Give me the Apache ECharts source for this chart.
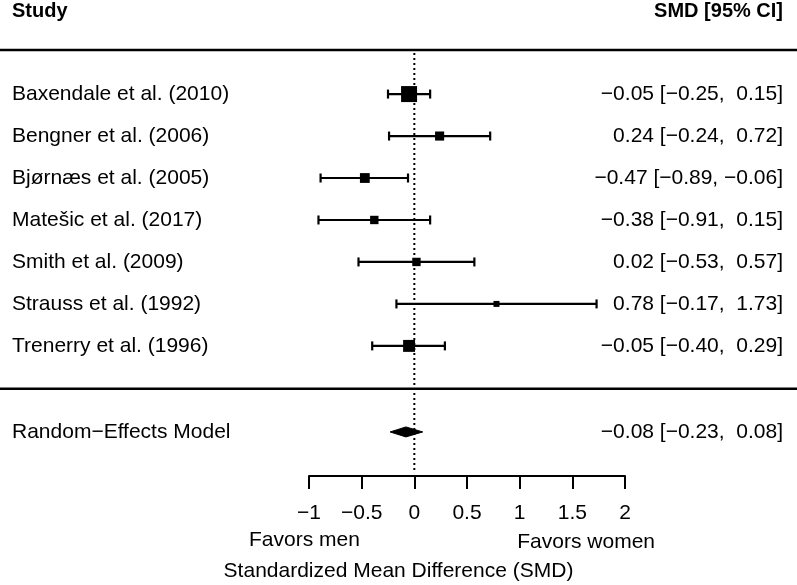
<!DOCTYPE html>
<html>
<head>
<meta charset="utf-8">
<script src="https://cdn.jsdelivr.net/npm/echarts@6/dist/echarts.min.js"></script>
<style>html,body{margin:0;padding:0;background:#fff;}#c{width:797px;height:585px;}</style>
</head>
<body>
<div id="c"></div>
<script>
// ---- data ----
const studies = ['Baxendale et al. (2010)', 'Bengner et al. (2006)', 'Bjørnæs et al. (2005)', 'Matešic et al. (2017)', 'Smith et al. (2009)', 'Strauss et al. (1992)', 'Trenerry et al. (1996)'];
const smd    = [-0.05, 0.24, -0.47, -0.38, 0.02, 0.78, -0.05];
const ciLow  = [-0.25, -0.24, -0.89, -0.91, -0.53, -0.17, -0.40];
const ciHigh = [0.15, 0.72, -0.06, 0.15, 0.57, 1.73, 0.29];
const weights = [27.0, 12.5, 14.0, 11.0, 11.0, 6.0, 18.5];
const summaryLabel = 'Random\u2212Effects Model';
const summaryEst = -0.08, summaryLow = -0.23, summaryHigh = 0.08;
const xMin = -1, xMax = 2, xStep = 0.5;
const headerLeft = 'Study', headerRight = 'SMD [95% CI]';
const axisTitle = 'Standardized Mean Difference (SMD)';
const leftNote = 'Favors men', rightNote = 'Favors women';

// ---- helpers ----
const FONT = '21px "Liberation Sans", Arial, sans-serif';
const BFONT = 'bold 20px "Liberation Sans", Arial, sans-serif';
const fmt = v => { const s = Math.abs(v).toFixed(2); return (v < 0 ? '\u2212' : '') + s; };
function ciText(e, l, h) {
  return fmt(e) + ' [' + fmt(l) + ', ' + (h < 0 ? '' : ' ') + fmt(h) + ']';
}
const wMin = Math.min(...weights), wMax = Math.max(...weights);
const sizeOf = w => 6 + (w - wMin) / (wMax - wMin) * 10;

const rowTop = -1.05, rowSep = 7.02, rowSummary = 8.05, rowAxis = 9.1;

const studyData = studies.map((s, i) => [smd[i], ciLow[i], ciHigh[i], i, weights[i]]);

const chart = echarts.init(document.getElementById('c'), null, {renderer: 'canvas'});
chart.setOption({
  animation: false,
  grid: {left: 309, right: 172, top: 50, bottom: 109, containLabel: false},
  xAxis: {
    type: 'value', min: xMin, max: xMax, interval: xStep, position: 'bottom',
    axisLine: {show: true, onZero: false, lineStyle: {color: '#000', width: 2}},
    axisTick: {show: true, length: 13, inside: false, lineStyle: {color: '#000', width: 2}},
    axisLabel: {color: '#000', fontSize: 21, fontFamily: 'Liberation Sans', margin: 27,
      formatter: v => String(v).replace('-', '\u2212')},
    splitLine: {show: false}
  },
  yAxis: {type: 'value', min: rowTop, max: rowAxis, inverse: true, show: false},
  series: [
    {
      type: 'custom', clip: false, silent: true,
      data: [[0, rowTop], [0, rowSep]],
      encode: {x: 0, y: 1},
      renderItem: (params, api) => {
        const y = api.coord([0, api.value(1)])[1];
        return {type: 'line', shape: {x1: 0, y1: y, x2: api.getWidth(), y2: y},
          style: {stroke: '#000', lineWidth: 2.5}};
      }
    },
    {
      type: 'custom', clip: false, silent: true,
      data: [[0, rowTop, rowAxis]],
      encode: {x: 0, y: 1},
      renderItem: (params, api) => {
        const x = api.coord([0, 0])[0];
        const y1 = api.coord([0, api.value(1)])[1] + 3;
        const y2 = api.coord([0, api.value(2)])[1] - 6;
        return {type: 'line', shape: {x1: x, y1: y1, x2: x, y2: y2},
          style: {stroke: '#000', lineWidth: 2, lineDash: [2, 3]}};
      }
    },
    {
      type: 'custom', clip: false, silent: true,
      data: studyData,
      encode: {x: [0, 1, 2], y: 3},
      renderItem: (params, api) => {
        const i = params.dataIndex;
        const y = api.coord([0, api.value(3)])[1];
        const xe = api.coord([api.value(0), 0])[0];
        const xl = api.coord([api.value(1), 0])[0];
        const xh = api.coord([api.value(2), 0])[0];
        const s = sizeOf(api.value(4));
        const ln = {stroke: '#000', lineWidth: 2.2};
        return {type: 'group', children: [
          {type: 'line', shape: {x1: xl, y1: y, x2: xh, y2: y}, style: ln},
          {type: 'line', shape: {x1: xl, y1: y - 4.5, x2: xl, y2: y + 4.5}, style: ln},
          {type: 'line', shape: {x1: xh, y1: y - 4.5, x2: xh, y2: y + 4.5}, style: ln},
          {type: 'rect', shape: {x: xe - s / 2, y: y - s / 2, width: s, height: s}, style: {fill: '#000'}},
          {type: 'text', x: 12, y: y, style: {text: studies[i], font: FONT, fill: '#000', align: 'left', verticalAlign: 'middle'}},
          {type: 'text', x: 783, y: y, style: {text: ciText(smd[i], ciLow[i], ciHigh[i]), font: FONT, fill: '#000', align: 'right', verticalAlign: 'middle'}}
        ]};
      }
    },
    {
      type: 'custom', clip: false, silent: true,
      data: [[summaryEst, summaryLow, summaryHigh, rowSummary]],
      encode: {x: [0, 1, 2], y: 3},
      renderItem: (params, api) => {
        const y = api.coord([0, api.value(3)])[1];
        const xe = api.coord([api.value(0), 0])[0];
        const xl = api.coord([api.value(1), 0])[0];
        const xh = api.coord([api.value(2), 0])[0];
        return {type: 'group', children: [
          {type: 'polygon', shape: {points: [[xl, y], [xe, y - 5], [xh, y], [xe, y + 5]]}, style: {fill: '#000', stroke: '#000', lineWidth: 1}},
          {type: 'text', x: 12, y: y, style: {text: summaryLabel, font: FONT, fill: '#000', align: 'left', verticalAlign: 'middle'}},
          {type: 'text', x: 783, y: y, style: {text: ciText(summaryEst, summaryLow, summaryHigh), font: FONT, fill: '#000', align: 'right', verticalAlign: 'middle'}}
        ]};
      }
    }
  ],
  graphic: [
    {type: 'text', left: 12, top: 1, style: {text: headerLeft, font: BFONT, fill: '#000'}},
    {type: 'text', right: 14, top: 1, style: {text: headerRight, font: BFONT, fill: '#000'}},
    {type: 'text', left: 249, top: 530, style: {text: leftNote, font: FONT, fill: '#000'}},
    {type: 'text', right: 142, top: 532, style: {text: rightNote, font: FONT, fill: '#000'}},
    {type: 'text', left: 'center', top: 561, style: {text: axisTitle, font: FONT, fill: '#000'}}
  ]
});
</script>
</body>
</html>
